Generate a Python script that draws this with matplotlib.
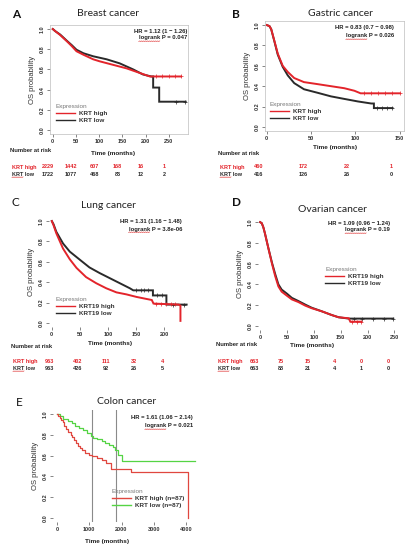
import numpy as np
import matplotlib
matplotlib.use('Agg')
import matplotlib.pyplot as plt
from matplotlib.transforms import blended_transform_factory, offset_copy

W, H = 416, 555
RED = '#e3242b'
BLACK = '#2a2a2a'
GREEN = '#55d444'
GRAY = '#a0a0a0'

# A - breast cancer (months, OS probability)
BREAST_HIGH_T = [0, 5, 16, 30, 41, 51, 66, 87, 101, 130, 159, 187, 209, 276]
BREAST_HIGH_S = [1.0, 0.98, 0.94, 0.88, 0.83, 0.78, 0.745, 0.70, 0.68, 0.645, 0.61, 0.565, 0.53, 0.53]
BREAST_LOW_T = [0, 5, 16, 30, 41, 51, 66, 87, 116, 144, 173, 194, 212, 216, 216, 229, 229, 286]
BREAST_LOW_S = [1.0, 0.98, 0.945, 0.885, 0.84, 0.795, 0.76, 0.73, 0.70, 0.66, 0.60, 0.55, 0.53, 0.53, 0.42, 0.42, 0.28, 0.28]
BREAST_HIGH_CENS = [222, 236, 250, 264, 276]
BREAST_LOW_CENS = [265, 285]
BREAST_RISK_T = [0, 50, 100, 150, 200, 250]
BREAST_RISK_HIGH = [2229, 1442, 607, 168, 16, 1]
BREAST_RISK_LOW = [1722, 1077, 468, 83, 12, 2]

# B - gastric cancer
GASTRIC_HIGH_T = [0, 3, 5, 8.6, 12.4, 18, 23.7, 31, 42, 57.5, 72.5, 87.6, 99, 106, 150]
GASTRIC_HIGH_S = [1.0, 0.99, 0.96, 0.845, 0.72, 0.60, 0.54, 0.48, 0.44, 0.42, 0.40, 0.38, 0.355, 0.33, 0.33]
GASTRIC_LOW_T = [0, 3, 5, 8.6, 12.4, 18, 23.7, 31, 42, 57.5, 72.5, 87.6, 103, 118, 121, 121, 142]
GASTRIC_LOW_S = [1.0, 0.99, 0.96, 0.84, 0.71, 0.59, 0.506, 0.43, 0.37, 0.335, 0.30, 0.275, 0.25, 0.23, 0.23, 0.185, 0.185]
GASTRIC_HIGH_CENS = [110, 118, 126, 134, 142, 150]
GASTRIC_LOW_CENS = [124, 130, 136, 142]
GASTRIC_RISK_T = [0, 50, 100, 150]
GASTRIC_RISK_HIGH = [460, 172, 22, 1]
GASTRIC_RISK_LOW = [416, 126, 26, 0]

# C - lung cancer
LUNG_HIGH_T = [0, 3, 8, 20, 32, 44, 61, 79, 97, 115, 133, 151, 169, 178, 181, 226, 229, 229]
LUNG_HIGH_S = [1.0, 0.96, 0.88, 0.73, 0.625, 0.54, 0.45, 0.39, 0.34, 0.30, 0.28, 0.255, 0.235, 0.225, 0.19, 0.18, 0.17, 0.02]
LUNG_LOW_T = [0, 3, 8, 20, 32, 50, 67, 85, 103, 121, 139, 145, 180, 180, 204, 204, 240]
LUNG_LOW_S = [1.0, 0.97, 0.895, 0.78, 0.70, 0.62, 0.545, 0.49, 0.44, 0.39, 0.34, 0.32, 0.32, 0.27, 0.27, 0.18, 0.18]
LUNG_HIGH_CENS = [186, 195, 204, 212, 220]
LUNG_LOW_CENS = [150, 158, 165, 172, 188, 196, 215, 235]
LUNG_RISK_T = [0, 50, 100, 150, 200]
LUNG_RISK_HIGH = [963, 402, 111, 32, 4]
LUNG_RISK_LOW = [963, 426, 92, 26, 5]

# D - ovarian cancer
OVARIAN_HIGH_T = [0, 3, 6, 9, 15.5, 22, 28, 34, 40, 50, 59, 71, 84, 96, 115, 133, 146, 165, 168, 189]
OVARIAN_HIGH_S = [1.0, 0.99, 0.95, 0.89, 0.745, 0.60, 0.48, 0.38, 0.33, 0.29, 0.255, 0.23, 0.195, 0.17, 0.14, 0.105, 0.083, 0.073, 0.04, 0.04]
OVARIAN_LOW_T = [0, 3, 6, 9, 15.5, 22, 28, 34, 40, 50, 59, 71, 84, 96, 115, 133, 146, 165, 248]
OVARIAN_LOW_S = [1.0, 0.99, 0.95, 0.89, 0.745, 0.61, 0.50, 0.40, 0.35, 0.31, 0.27, 0.24, 0.205, 0.175, 0.14, 0.105, 0.083, 0.07, 0.07]
OVARIAN_HIGH_CENS = [172, 180, 188]
OVARIAN_LOW_CENS = [175, 190, 210, 230, 248]
OVARIAN_RISK_T = [0, 50, 100, 150, 200, 250]
OVARIAN_RISK_HIGH = [663, 75, 15, 4, 0, 0]
OVARIAN_RISK_LOW = [663, 88, 21, 4, 1, 0]

# E - colon cancer (days)
COLON_HIGH_T = [0, 30, 80, 130, 180, 230, 290, 350, 420, 480, 540, 600, 660, 720, 790, 880, 980,
                1100, 1250, 1400, 1520, 1680, 2280, 4050, 4050]
COLON_HIGH_S = [1.0, 0.98, 0.96, 0.94, 0.92, 0.89, 0.86, 0.83, 0.80, 0.78, 0.75, 0.72, 0.69, 0.67, 0.65, 0.63,
                0.61, 0.60, 0.58, 0.56, 0.53, 0.47, 0.44, 0.44, 0.0]
COLON_LOW_T = [0, 80, 200, 330, 450, 560, 680, 800, 920, 1050, 1130, 1250, 1380, 1500, 1620, 1740,
               1800, 1900, 2000, 4290]
COLON_LOW_S = [1.0, 0.98, 0.95, 0.93, 0.91, 0.89, 0.87, 0.85, 0.82, 0.79, 0.77, 0.76, 0.74, 0.72, 0.70, 0.68,
               0.65, 0.61, 0.55, 0.55]
COLON_MARKS = [1090, 1820]

plt.rcParams['font.family'] = ['Liberation Sans', 'DejaVu Sans']

fig = plt.figure(figsize=(W / 100, H / 100), dpi=100)
renderer = fig.canvas.get_renderer()
squiggles = []


def fx(x):
    return x / W


def fy(y):
    return 1 - y / H


def make_axes(l, t, r, b, xlim, xticks, box):
    ax = fig.add_axes([fx(l), fy(b), fx(r - l), (b - t) / H])
    ax.set_xlim(*xlim)
    ax.set_ylim(-0.04, 1.04)
    ax.set_xticks(xticks)
    ax.set_yticks([0, 0.2, 0.4, 0.6, 0.8, 1.0])
    ax.set_yticklabels(['0.0', '0.2', '0.4', '0.6', '0.8', '1.0'], rotation=90, va='center')
    ax.tick_params(labelsize=4, length=2, width=0.5, color='#555555', pad=1.5)
    for lab in ax.get_xticklabels() + ax.get_yticklabels():
        lab.set_fontweight('bold')
        lab.set_color('#333333')
    for name, sp in ax.spines.items():
        sp.set_linewidth(0.5)
        sp.set_color('#bdbdbd')
        if not box:
            sp.set_visible(False)
    ax.set_ylabel('OS probability', fontsize=5.5, color='#333333', labelpad=3)
    return ax


def km(ax, t, s, color, cens=None, lw=1.4, step=False):
    if step:
        ax.step(t, s, where='post', color=color, lw=lw)
    else:
        ax.plot(t, s, color=color, lw=lw, solid_joinstyle='miter')
    if cens:
        ys = np.interp(cens, t, s)
        ax.plot(cens, ys, '+', color=color, ms=2.5, mew=0.5)


def header(letter, lx, ly, title, tx, ty, bold=True):
    fig.text(fx(lx), fy(ly), letter, fontsize=8.5, fontweight='bold' if bold else 'normal',
             family='Lato', ha='left', va='center', color='#111111')
    fig.text(fx(tx), fy(ty), title, fontsize=7.5, family='Lato', ha='center', va='center',
             color='#222222')


def hr_text(x, y1, y2, hr, p):
    fig.text(fx(x), fy(y1), hr, fontsize=4.2, fontweight='bold', ha='right', va='center', color='#222222')
    t = fig.text(fx(x), fy(y2), p, fontsize=4.2, fontweight='bold', ha='right', va='center', color='#222222')
    squiggles.append((t, 'logrank'))


def legend(ax, labels, colors, x, y, marked):
    handles = [plt.Line2D([], [], color=c, lw=1.0) for c in colors]
    lg = ax.legend(handles, labels, title='Expression', loc='upper left',
                   bbox_to_anchor=(fx(x), fy(y)), bbox_transform=fig.transFigure,
                   frameon=False, fontsize=4.6, title_fontsize=4.6, handlelength=3.0,
                   handletextpad=0.6, labelspacing=0.25, borderpad=0, borderaxespad=0,
                   alignment='left')
    lg.get_title().set_color('#777777')
    for i, tx in enumerate(lg.get_texts()):
        tx.set_fontweight('bold')
        tx.set_color('#333333')
        if i in marked:
            squiggles.append((tx, 'KRT'))


def risk_table(ax, times, high, low, lab_x, nar_y, row1, row2, dx):
    fs = 4.0
    fig.text(fx(lab_x - 2), fy(nar_y), 'Number at risk', fontsize=4.2, fontweight='bold',
             ha='left', va='center', color='#222222')
    fig.text(fx(lab_x), fy(row1), 'KRT high', fontsize=fs, fontweight='bold', ha='left',
             va='center', color=RED)
    t = fig.text(fx(lab_x), fy(row2), 'KRT low', fontsize=fs, fontweight='bold', ha='left',
                 va='center', color=BLACK)
    squiggles.append((t, 'KRT'))
    tr = offset_copy(blended_transform_factory(ax.transData, fig.transFigure), fig=fig,
                     x=dx, y=0, units='dots')
    for t, n in zip(times, high):
        ax.text(t, fy(row1), str(n), transform=tr, fontsize=fs, fontweight='bold',
                ha='center', va='center', color=RED, clip_on=False)
    for t, n in zip(times, low):
        ax.text(t, fy(row2), str(n), transform=tr, fontsize=fs, fontweight='bold',
                ha='center', va='center', color=BLACK, clip_on=False)


def xlabel(x, y):
    fig.text(fx(x), fy(y), 'Time (months)', fontsize=4.6, fontweight='bold', ha='center',
             va='center', color='#222222')


def draw_squiggles():
    # red spell-check waves under the marked words
    for txt, word in squiggles:
        bb = txt.get_window_extent(renderer)
        tmp = fig.text(0, 0, word, fontsize=txt.get_fontsize(), fontweight=txt.get_fontweight())
        w = tmp.get_window_extent(renderer).width
        tmp.remove()
        xs = np.arange(bb.x0, bb.x0 + w + 0.5, 1.0)
        ys = bb.y0 - 1.0 + 0.6 * (np.arange(len(xs)) % 2)
        fig.add_artist(plt.Line2D(xs / W, ys / H, transform=fig.transFigure,
                                  color='#e03a3a', lw=0.45))


# ---- A
axA = make_axes(50, 25, 188, 134, (-6, 291), [0, 50, 100, 150, 200, 250], True)
km(axA, BREAST_LOW_T, BREAST_LOW_S, BLACK, BREAST_LOW_CENS)
km(axA, BREAST_HIGH_T, BREAST_HIGH_S, RED, BREAST_HIGH_CENS)
header('A', 12, 14, 'Breast cancer', 108, 14)
hr_text(187, 31, 38, 'HR = 1.12 (1 − 1.26)', 'logrank P = 0.047')
legend(axA, ['KRT high', 'KRT low'], [RED, BLACK], 56, 104, [1])
risk_table(axA, BREAST_RISK_T, BREAST_RISK_HIGH, BREAST_RISK_LOW, 12, 151, 167, 174, -5)
xlabel(113, 153)

# ---- B
axB = make_axes(265, 21, 404, 131, (-2, 155), [0, 50, 100, 150], True)
km(axB, GASTRIC_LOW_T, GASTRIC_LOW_S, BLACK, GASTRIC_LOW_CENS)
km(axB, GASTRIC_HIGH_T, GASTRIC_HIGH_S, RED, GASTRIC_HIGH_CENS)
header('B', 232, 15, 'Gastric cancer', 340, 14)
hr_text(394, 28, 36, 'HR = 0.83 (0.7 − 0.98)', 'logrank P = 0.026')
legend(axB, ['KRT high', 'KRT low'], [RED, BLACK], 270, 102, [1])
risk_table(axB, GASTRIC_RISK_T, GASTRIC_RISK_HIGH, GASTRIC_RISK_LOW, 220, 153, 167, 174, -8)
xlabel(335, 147)

# ---- C
axC = make_axes(49, 217, 190, 327, (-5, 246), [0, 50, 100, 150, 200], False)
km(axC, LUNG_LOW_T, LUNG_LOW_S, BLACK, LUNG_LOW_CENS)
km(axC, LUNG_HIGH_T, LUNG_HIGH_S, RED, LUNG_HIGH_CENS)
header('C', 12, 203, 'Lung cancer', 108, 205, bold=False)
hr_text(182, 222, 229, 'HR = 1.31 (1.16 − 1.48)', 'logrank P = 3.8e-06')
legend(axC, ['KRT19 high', 'KRT19 low'], [RED, BLACK], 56, 297, [])
risk_table(axC, LUNG_RISK_T, LUNG_RISK_HIGH, LUNG_RISK_LOW, 13, 347, 361.5, 368, -2)
xlabel(110, 343)

# ---- D
axD = make_axes(258, 218, 404, 330, (-4, 268), [0, 50, 100, 150, 200, 250], False)
km(axD, OVARIAN_LOW_T, OVARIAN_LOW_S, BLACK, OVARIAN_LOW_CENS)
km(axD, OVARIAN_HIGH_T, OVARIAN_HIGH_S, RED, OVARIAN_HIGH_CENS)
header('D', 232, 203, 'Ovarian cancer', 333, 210)
hr_text(390, 223, 230, 'HR = 1.09 (0.96 − 1.24)', 'logrank P = 0.19')
legend(axD, ['KRT19 high', 'KRT19 low'], [RED, BLACK], 325, 267, [])
risk_table(axD, OVARIAN_RISK_T, OVARIAN_RISK_HIGH, OVARIAN_RISK_LOW, 218, 345, 361.5, 368, -6)
xlabel(312, 345)

# ---- E
axE = make_axes(53, 410, 197, 522, (-124, 4340), [0, 1000, 2000, 3000, 4000], False)
for m in COLON_MARKS:
    axE.axvline(m, color='#8a8a8a', lw=0.8)
km(axE, COLON_LOW_T, COLON_LOW_S, GREEN, lw=0.9, step=True)
km(axE, COLON_HIGH_T, COLON_HIGH_S, '#e0473f', lw=0.9, step=True)
header('E', 16, 402, 'Colon cancer', 127, 402, bold=False)
hr_text(193, 418, 426, 'HR = 1.61 (1.06 − 2.14)', 'logrank P = 0.021')
legend(axE, ['KRT high (n=87)', 'KRT low (n=87)'], ['#e0473f', GREEN], 112, 489, [0, 1])
xlabel(107, 542)

draw_squiggles()

fig.savefig('out.png', dpi=100)
